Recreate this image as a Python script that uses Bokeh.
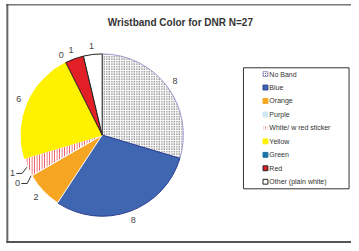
import numpy as np
from bokeh.plotting import figure
from bokeh.models import Range1d, ColumnDataSource
from bokeh.embed import file_html
from bokeh.resources import INLINE
from bokeh.core.properties import value

# ---- data ----
title_text = "Wristband Color for DNR N=27"
categories = ["No Band", "Blue", "Orange", "Purple", "White/ w red sticker",
              "Yellow", "Green", "Red", "Other (plain white)"]
counts = [8, 8, 2, 0, 1, 6, 0, 1, 1]

# ---- styles ----
fill_colors = ["#ffffff", "#3f67b1", "#f6a623", "#cde9f7", "#ffffff",
               "#fff200", "#1a72a6", "#e21f26", "#ffffff"]
line_colors = ["#9a9ad0", "#2c3e8f", "#ffffff", "#cde9f7", "#ffffff",
               "#fff200", "#1a72a6", "#222222", "#222222"]
hatch_patterns = ["dot", " ", " ", " ", "vertical_line", " ", " ", " ", " "]
hatch_colors = ["#333333", "#000000", "#000000", "#000000", "#e21f26",
                "#000000", "#000000", "#000000", "#000000"]
leader = [False, False, False, True, True, False, False, False, False]
FONT = "Liberation Sans"

W, H = 351, 243
def Y(ry):  # convert a reference-row position to data y
    return 251 - ry

p = figure(width=W, height=H, x_range=Range1d(0, 359), y_range=Range1d(0, 251),
           output_backend="svg", toolbar_location=None, min_border=0,
           x_axis_location=None, y_axis_location=None)
p.grid.visible = False
p.outline_line_color = None
p.background_fill_color = "white"
p.border_fill_color = "white"

# frame
p.segment(x0=[7], y0=[Y(4)], x1=[7], y1=[Y(251)], line_color="#666666", line_width=2)
p.segment(x0=[6], y0=[Y(4.5)], x1=[359], y1=[Y(4.5)], line_color="#333333", line_width=1)
p.segment(x0=[6], y0=[Y(249.5)], x1=[359], y1=[Y(249.5)], line_color="#555555", line_width=2)

# title
p.text(x=[184], y=[Y(23)], text=[title_text], text_font=value(FONT),
       text_font_style="bold", text_font_size="10px", text_color="#333333",
       text_align="center", text_baseline="middle")

# pie
CX, CY, R = 104, Y(139), 83
total = sum(counts)
cum = np.concatenate([[0], np.cumsum(counts)])
start = np.pi / 2 - 2 * np.pi * cum[:-1] / total
end = np.pi / 2 - 2 * np.pi * cum[1:] / total
mid = (start + end) / 2

keep = [i for i, c in enumerate(counts) if c > 0]
src = ColumnDataSource(dict(
    start=[start[i] for i in keep], end=[end[i] for i in keep],
    fill=[fill_colors[i] for i in keep], line=[line_colors[i] for i in keep],
    hp=[hatch_patterns[i] for i in keep], hc=[hatch_colors[i] for i in keep]))
p.wedge(x=CX, y=CY, radius=R, start_angle="start", end_angle="end",
        direction="clock", fill_color="fill", line_color="line", line_width=1,
        hatch_pattern="hp", hatch_color="hc", hatch_scale=2.5, hatch_weight=0.8,
        source=src)

# value labels
LR = 93
lx, ly, lt = [], [], []
for i, c in enumerate(counts):
    if leader[i]:
        continue
    lx.append(CX + LR * np.cos(mid[i]))
    ly.append(CY + LR * np.sin(mid[i]))
    lt.append(str(c))
p.text(x=lx, y=ly, text=lt, text_font=value(FONT), text_font_size="9px",
       text_color="#444444", text_align="center", text_baseline="middle")

# leader labels
for i, c in enumerate(counts):
    if not leader[i]:
        continue
    ax = CX + 100 * np.cos(mid[i])
    ay = CY + 100 * np.sin(mid[i])
    ex = CX + 84 * np.cos(mid[i])
    ey = CY + 84 * np.sin(mid[i])
    p.line(x=[ax + 4, ax + 10, ex], y=[ay, ay, ey], line_color="#333333", line_width=1)
    p.text(x=[ax], y=[ay], text=[str(c)], text_font=value(FONT), text_font_size="9px",
           text_color="#444444", text_align="center", text_baseline="middle")

# legend
p.quad(left=[248.5], right=[356.5], top=[Y(69.5)], bottom=[Y(194.5)],
       fill_color="white", line_color="#333333", line_width=1)
n = len(categories)
rows = [Y(76 + 13.9 * i) for i in range(n)]
leg_line = ["#9a9ad0", "#2c3e8f", "#f6a623", "#cde9f7", "#ffffff",
            "#fff200", "#1a72a6", "#222222", "#222222"]
p.rect(x=[271] * n, y=rows, width=5, height=5, fill_color=fill_colors,
       line_color=leg_line, line_width=1, hatch_pattern=hatch_patterns,
       hatch_color=hatch_colors, hatch_scale=2, hatch_weight=0.8)
p.text(x=[275] * n, y=rows, text=categories, text_font=value(FONT),
       text_font_size="7px", text_color="#333333", text_align="left",
       text_baseline="middle")

open("out.html", "w").write(file_html(p, INLINE))
